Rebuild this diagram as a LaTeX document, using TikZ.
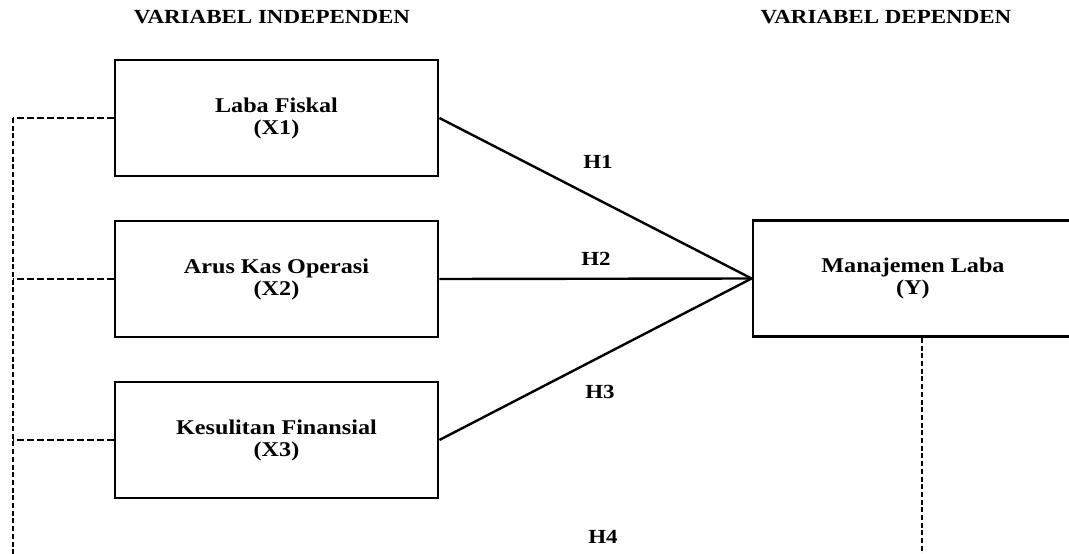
\documentclass[tikz,border=0pt]{standalone}
\usepackage{fontspec}
\setmainfont{Liberation Serif}[FakeStretch=1.15]
\begin{document}
\begin{tikzpicture}[x=1pt,y=-1pt,
  txt/.style={font=\bfseries\fontsize{20}{22}\selectfont, align=center},
  boxtxt/.style={font=\bfseries\fontsize{21}{22}\selectfont, align=center},
  box/.style={boxtxt, draw, line width=2.8pt, minimum width=323pt, minimum height=116pt, inner sep=0pt},
  conn/.style={line width=2.4pt},
  hdash/.style={line width=2.6pt, dash pattern=on 7pt off 3pt},
  vdash/.style={line width=2.6pt, dash pattern=on 5pt off 2.7pt},
  lab/.style={txt}]
\useasboundingbox (0,0) rectangle (1069,554);
\clip (0,0) rectangle (1069,554);
\node[lab] (t1) at (272,17) {VARIABEL INDEPENDEN};
\node[lab] (t2) at (886,17) {VARIABEL DEPENDEN};
\node[box] (x1) at (276.5,118) {Laba Fiskal\\(X1)};
\node[box] (x2) at (276.5,279) {Arus Kas Operasi\\(X2)};
\node[box] (x3) at (276.5,440) {Kesulitan Finansial\\(X3)};
\node[box, minimum width=320pt] (y) at (913,278.5) {Manajemen Laba\\(Y)};
\draw[conn] (x1.east) -- (y.west);
\draw[conn] (x2.east) -- (y.west);
\draw[conn] (x3.east) -- (y.west);
\node[lab] (h1) at (598,162) {H1};
\node[lab] (h2) at (596,259) {H2};
\node[lab] (h3) at (600,392) {H3};
\node[lab] (h4) at (603,537) {H4};
\coordinate (l1) at (13,118);
\coordinate (l2) at (13,279);
\coordinate (l3) at (13,440);
\coordinate (lb) at (13,570);
\coordinate (yb) at (922,570);
\draw[hdash] (x1.west) -- (l1);
\draw[hdash] (x2.west) -- (l2);
\draw[hdash] (x3.west) -- (l3);
\draw[vdash] (l1) -- (lb);
\draw[vdash] (y.south -| yb) -- (yb);
\end{tikzpicture}
\end{document}
